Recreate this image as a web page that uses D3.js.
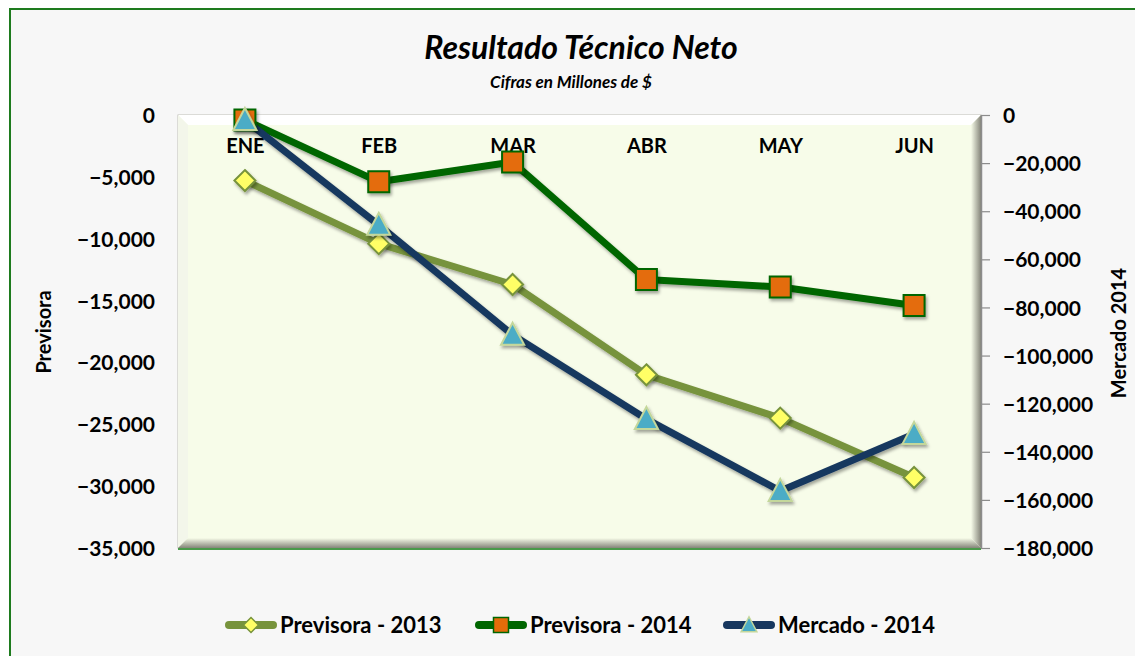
<!DOCTYPE html>
<html>
<head>
<meta charset="utf-8">
<script src="https://cdnjs.cloudflare.com/ajax/libs/d3/7.8.5/d3.min.js"></script>
<style>
  body { margin:0; background:#ffffff; }
  text { font-family: Lato, "Open Sans", sans-serif; font-weight:bold; fill:#000; }
</style>
</head>
<body>
<div id="chart"></div>
<script>
// datos
var months = ["ENE","FEB","MAR","ABR","MAY","JUN"];
var previsora2013 = [-5300,-10400,-13700,-21000,-24500,-29300];
var previsora2014 = [-400,-5400,-3800,-13300,-13900,-15400];
var mercado2014 = [-2100,-45700,-91400,-126400,-156300,-132600];
var leftTicks = [0,-5000,-10000,-15000,-20000,-25000,-30000,-35000];
var rightTicks = [0,-20000,-40000,-60000,-80000,-100000,-120000,-140000,-160000,-180000];

var W = 1135, H = 656;
var plot = {left:178, right:981, top:115, bottom:548};

var svg = d3.select("#chart").append("svg")
            .attr("width", W)
            .attr("height", H);

var defs = svg.append("defs");

var shadow = defs.append("filter")
                 .attr("id","shadow")
                 .attr("x","-50%").attr("y","-50%")
                 .attr("width","200%").attr("height","200%");
shadow.append("feDropShadow")
      .attr("dx",1.5).attr("dy",2.5)
      .attr("stdDeviation",1.8)
      .attr("flood-color","#000")
      .attr("flood-opacity",0.35);

var gBottom = defs.append("linearGradient").attr("id","bevelBottom")
                  .attr("x1",0).attr("y1",0).attr("x2",0).attr("y2",1);
gBottom.append("stop").attr("offset","0%").attr("stop-color","#f7fce9");
gBottom.append("stop").attr("offset","100%").attr("stop-color","#85857a");

var gRight = defs.append("linearGradient").attr("id","bevelRight")
                 .attr("x1",0).attr("y1",0).attr("x2",1).attr("y2",0);
gRight.append("stop").attr("offset","0%").attr("stop-color","#f7fce9");
gRight.append("stop").attr("offset","100%").attr("stop-color","#85857a");

// fondo y borde
svg.append("rect")
   .attr("x",0).attr("y",0)
   .attr("width",W).attr("height",H)
   .attr("fill","#ffffff");
svg.append("rect")
   .attr("x",10).attr("y",9)
   .attr("width",W+10).attr("height",H+10)
   .attr("fill","#f7f7f7")
   .attr("stroke","#1e7b1e")
   .attr("stroke-width",2);

// area de trazado con bisel
var b = 10;
svg.append("rect")
   .attr("x",plot.left).attr("y",plot.top)
   .attr("width",plot.right-plot.left)
   .attr("height",plot.bottom-plot.top)
   .attr("fill","#f7fce9")
   .attr("stroke","#c0c0b8")
   .attr("stroke-width",1);
svg.append("polygon")
   .attr("points",[[plot.left,plot.top],[plot.right,plot.top],[plot.right-b,plot.top+b],[plot.left+b,plot.top+b]].join(" "))
   .attr("fill","#ffffff");
svg.append("polygon")
   .attr("points",[[plot.left,plot.top],[plot.left+b,plot.top+b],[plot.left+b,plot.bottom-b],[plot.left,plot.bottom]].join(" "))
   .attr("fill","#f3f6ea");
svg.append("polygon")
   .attr("points",[[plot.left,plot.bottom],[plot.left+b,plot.bottom-b],[plot.right-b,plot.bottom-b],[plot.right,plot.bottom]].join(" "))
   .attr("fill","url(#bevelBottom)");
svg.append("polygon")
   .attr("points",[[plot.right,plot.top],[plot.right,plot.bottom],[plot.right-b,plot.bottom-b],[plot.right-b,plot.top+b]].join(" "))
   .attr("fill","url(#bevelRight)");
svg.append("line")
   .attr("x1",plot.left).attr("x2",plot.right)
   .attr("y1",plot.bottom+1).attr("y2",plot.bottom+1)
   .attr("stroke","#4a9a4a")
   .attr("stroke-width",2);

// escalas
var x = d3.scalePoint()
          .domain(months)
          .range([plot.left, plot.right])
          .padding(0.5);
var yLeft = d3.scaleLinear()
              .domain([-35000,0])
              .range([plot.bottom, plot.top]);
var yRight = d3.scaleLinear()
               .domain([-180000,0])
               .range([plot.bottom, plot.top]);

var fmt = d3.format(",");

// eje izquierdo
var leftAxis = svg.append("g")
                  .attr("transform","translate("+(plot.left-20)+",0)")
                  .call(d3.axisLeft(yLeft).tickValues(leftTicks).tickFormat(fmt).tickSize(0));
leftAxis.select(".domain").remove();
leftAxis.selectAll("text")
        .attr("font-size","21px")
        .attr("dy","0.36em");

// eje derecho
var rightAxis = svg.append("g")
                   .attr("transform","translate("+plot.right+",0)")
                   .call(d3.axisRight(yRight).tickValues(rightTicks).tickFormat(fmt).tickSize(9).tickPadding(13).tickSizeOuter(0));
rightAxis.select(".domain").attr("stroke","#8c8c8c").attr("stroke-width",1.5);
rightAxis.selectAll("line").attr("stroke","#8c8c8c").attr("stroke-width",1.2);
rightAxis.selectAll("text")
         .attr("font-size","21px")
         .attr("dy","0.36em");

// eje de categorias (arriba, dentro del area)
var catAxis = svg.append("g")
                 .attr("transform","translate(0,"+(plot.top+31)+")")
                 .call(d3.axisBottom(x).tickSize(0).tickPadding(0));
catAxis.select(".domain").remove();
catAxis.selectAll("text")
       .attr("font-size","20px")
       .attr("dy","0.36em");

// titulos
svg.append("text")
   .attr("x",581).attr("y",59)
   .attr("text-anchor","middle")
   .attr("font-size","32px")
   .attr("font-style","italic")
   .text("Resultado Técnico Neto");
svg.append("text")
   .attr("x",571).attr("y",88)
   .attr("text-anchor","middle")
   .attr("font-size","17px")
   .attr("font-style","italic")
   .text("Cifras en Millones de $");
svg.append("text")
   .attr("transform","translate(51,332) rotate(-90)")
   .attr("text-anchor","middle")
   .attr("font-size","20px")
   .text("Previsora");
svg.append("text")
   .attr("transform","translate(1126,333) rotate(-90)")
   .attr("text-anchor","middle")
   .attr("font-size","20px")
   .text("Mercado 2014");

// series
var series = [
  {name:"Previsora - 2013", values:previsora2013, scale:yLeft, line:"#77933c", marker:"diamond", fill:"#ffff66", stroke:"#77933c"},
  {name:"Previsora - 2014", values:previsora2014, scale:yLeft, line:"#006600", marker:"square", fill:"#e46c0a", stroke:"#006600"},
  {name:"Mercado - 2014", values:mercado2014, scale:yRight, line:"#17375e", marker:"triangle", fill:"#4bacc6", stroke:"#c4d79b"}
];

function markerPath(type, s){
  var h = s/2;
  if(type=="diamond") return "M0,"+(-h)+"L"+h+",0L0,"+h+"L"+(-h)+",0Z";
  if(type=="square") return "M"+(-h)+","+(-h)+"H"+h+"V"+h+"H"+(-h)+"Z";
  return "M0,"+(-h*1.1)+"L"+(h*1.05)+","+(h*0.9)+"L"+(-h*1.05)+","+(h*0.9)+"Z";
}

var sizes = {diamond:21, square:21, triangle:22};

series.forEach(function(s){
  var line = d3.line()
               .x(function(d,i){return x(months[i]);})
               .y(function(d){return s.scale(d);});
  svg.append("path")
     .datum(s.values)
     .attr("d",line)
     .attr("fill","none")
     .attr("stroke",s.line)
     .attr("stroke-width",7)
     .attr("stroke-linejoin","round")
     .attr("filter","url(#shadow)");
});

series.forEach(function(s){
  svg.selectAll(null)
     .data(s.values)
     .enter()
     .append("path")
     .attr("transform",function(d,i){return "translate("+x(months[i])+","+s.scale(d)+")";})
     .attr("d",markerPath(s.marker,sizes[s.marker]))
     .attr("fill",s.fill)
     .attr("stroke",s.stroke)
     .attr("stroke-width",2)
     .attr("filter","url(#shadow)");
});

// leyenda
var legendX = [225,475,723];
var legend = svg.selectAll(".legend")
                .data(series)
                .enter()
                .append("g")
                .attr("transform",function(d,i){return "translate("+legendX[i]+",625)";});
legend.append("line")
      .attr("x1",4).attr("x2",48)
      .attr("y1",0).attr("y2",0)
      .attr("stroke",function(d){return d.line;})
      .attr("stroke-width",8)
      .attr("stroke-linecap","round");
legend.append("path")
      .attr("transform","translate(26,0)")
      .attr("d",function(d){return markerPath(d.marker,15);})
      .attr("fill",function(d){return d.fill;})
      .attr("stroke",function(d){return d.stroke;})
      .attr("stroke-width",1.5);
legend.append("text")
      .attr("x",55).attr("y",0)
      .attr("dy","0.36em")
      .attr("font-size","22px")
      .text(function(d){return d.name;});
</script>
</body>
</html>
